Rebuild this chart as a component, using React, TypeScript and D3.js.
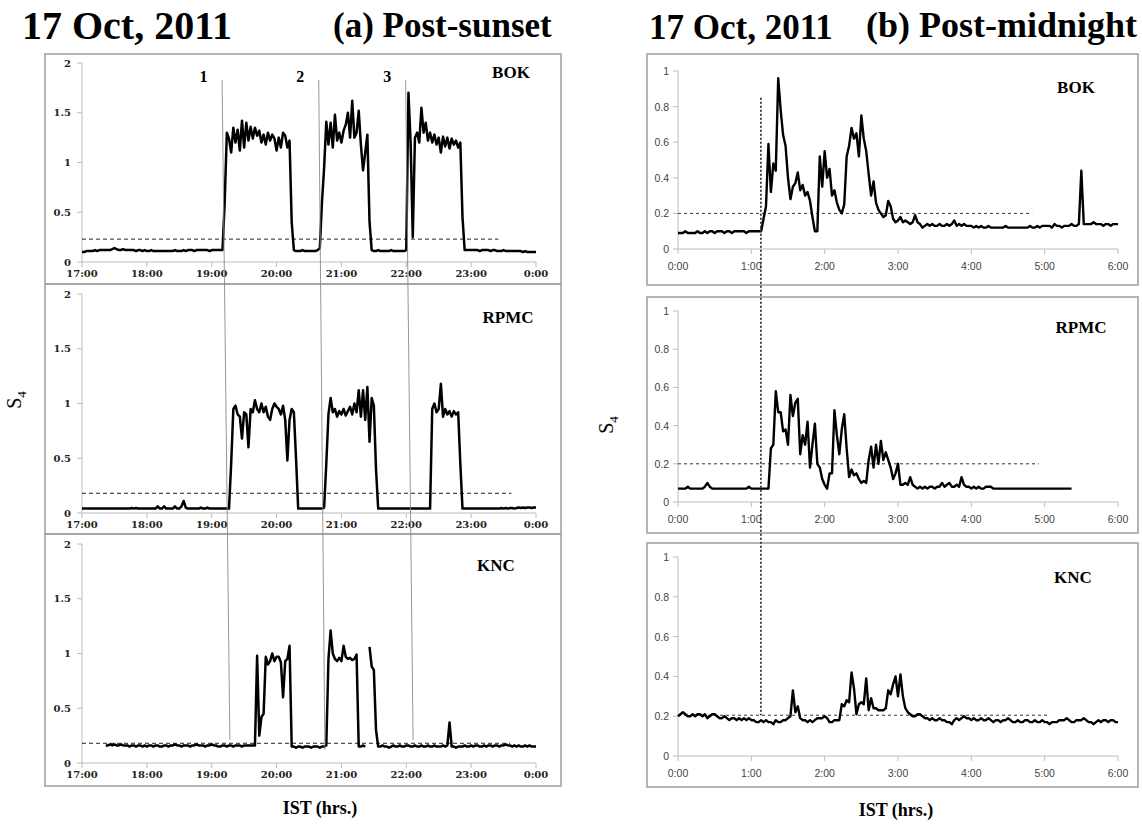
import React from 'react'
import * as d3 from 'd3'

// S4 index sampled every 2 minutes
const STEP_MIN = 2

// (a) post-sunset, 17:00 -> 0:00
const sunsetHourLabels = ['17:00', '18:00', '19:00', '20:00', '21:00', '22:00', '23:00', '0:00']
const sunsetYTicks = [0, 0.5, 1, 1.5, 2]

const bokSunset = [
  0.10, 0.10, 0.11, 0.11, 0.11, 0.11, 0.12, 0.11, 0.12, 0.12,
  0.12, 0.12, 0.12, 0.12, 0.13, 0.14, 0.13, 0.12, 0.12, 0.13,
  0.12, 0.12, 0.12, 0.12, 0.12, 0.11, 0.12, 0.12, 0.11, 0.12,
  0.11, 0.11, 0.12, 0.11, 0.11, 0.11, 0.11, 0.11, 0.11, 0.11,
  0.11, 0.11, 0.11, 0.12, 0.11, 0.11, 0.11, 0.12, 0.11, 0.12,
  0.12, 0.12, 0.11, 0.12, 0.12, 0.12, 0.12, 0.12, 0.12, 0.11,
  0.12, 0.12, 0.12, 0.12, 0.12,
  0.12, 0.60,
  1.30, 1.24, 1.10, 1.35, 1.20, 1.33, 1.12, 1.42, 1.15, 1.40,
  1.22, 1.36, 1.24, 1.35, 1.27, 1.32, 1.20, 1.28, 1.18, 1.30,
  1.22, 1.28, 1.24, 1.12, 1.25, 1.15, 1.30, 1.27, 1.15, 1.22,
  0.40,
  0.12, 0.11, 0.11, 0.11, 0.12, 0.11, 0.11, 0.11, 0.11, 0.11, 0.11, 0.12,
  0.14, 0.60, 0.95,
  1.41, 1.18, 1.40, 1.15, 1.48, 1.22, 1.30, 1.20, 1.32, 1.38,
  1.50, 1.25, 1.62, 1.25, 1.30, 1.52, 1.18, 0.92, 1.10, 1.28,
  0.40,
  0.12, 0.11, 0.11, 0.12, 0.11, 0.11, 0.11, 0.11, 0.11, 0.12, 0.11, 0.11, 0.11, 0.11, 0.11, 0.11, 0.12,
  1.70, 1.20, 0.25, 1.25, 1.30, 1.20, 1.55, 1.30, 1.40, 1.22,
  1.30, 1.20, 1.28, 1.18, 1.25, 1.10, 1.26, 1.16, 1.25, 1.14,
  1.24, 1.18, 1.22, 1.15, 1.20,
  0.45,
  0.12, 0.12, 0.12, 0.12, 0.12, 0.12, 0.12, 0.11, 0.12, 0.12,
  0.12, 0.12, 0.11, 0.12, 0.12, 0.11, 0.11, 0.11, 0.12, 0.11,
  0.11, 0.11, 0.11, 0.11, 0.11, 0.11, 0.11, 0.10, 0.11, 0.10,
  0.10, 0.10, 0.10, 0.10
]

const rpmcSunset = [
  0.04, 0.04, 0.04, 0.04, 0.04, 0.04, 0.04, 0.04, 0.04, 0.04,
  0.04, 0.04, 0.04, 0.04, 0.04, 0.04, 0.04, 0.04, 0.04, 0.04,
  0.04, 0.04, 0.04, 0.045, 0.04, 0.045, 0.04, 0.04, 0.04, 0.04,
  0.04, 0.04, 0.04, 0.04, 0.04, 0.06, 0.04, 0.04, 0.06, 0.04,
  0.04, 0.04, 0.04, 0.06, 0.04, 0.04, 0.06, 0.11, 0.05, 0.04,
  0.04, 0.04, 0.04, 0.04, 0.04, 0.05, 0.04, 0.04, 0.05, 0.04,
  0.04, 0.04, 0.04, 0.04, 0.04, 0.04, 0.04, 0.04,
  0.04, 0.45,
  0.95, 0.98, 0.90, 0.88, 0.68, 0.92, 0.90, 0.60, 0.95, 0.92,
  1.03, 0.95, 0.92, 1.00, 0.92, 0.97, 0.88, 0.85, 0.95, 1.00,
  0.97, 0.95, 0.90, 0.98, 0.85, 0.48, 0.85, 0.95, 0.92,
  0.50,
  0.04, 0.04, 0.04, 0.04, 0.04, 0.04, 0.04, 0.04, 0.04, 0.04, 0.04, 0.04,
  0.05, 0.45, 0.90,
  1.05, 0.92, 0.95, 0.88, 0.93, 0.90, 0.95, 0.89, 0.93, 0.97,
  0.90, 1.00, 0.92, 1.12, 0.88, 1.12, 0.85, 1.15, 0.65, 1.05, 0.98,
  0.40,
  0.04, 0.04, 0.04, 0.04, 0.04, 0.04, 0.04, 0.04, 0.04, 0.04,
  0.04, 0.04, 0.04, 0.04, 0.04, 0.04, 0.04, 0.04, 0.04, 0.04,
  0.04, 0.04, 0.04, 0.04, 0.04,
  0.95, 1.00, 0.92, 0.95, 1.18, 0.88, 0.95, 0.90, 0.93, 0.88, 0.93, 0.90, 0.92,
  0.45,
  0.04, 0.04, 0.04, 0.04, 0.04, 0.04, 0.04, 0.04, 0.04, 0.04,
  0.04, 0.04, 0.04, 0.04, 0.04, 0.04, 0.04, 0.04, 0.045, 0.04,
  0.045, 0.04, 0.045, 0.045, 0.04, 0.045, 0.05, 0.045, 0.05, 0.045,
  0.05, 0.05, 0.045, 0.05, 0.05
]

const kncSunset = [
  null, null, null, null, null, null, null, null, null, null, null,
  0.16, 0.16, 0.17, 0.16, 0.17, 0.16, 0.16, 0.17, 0.16, 0.16,
  0.16, 0.15, 0.16, 0.16, 0.15, 0.16, 0.16, 0.15, 0.16, 0.15,
  0.16, 0.16, 0.15, 0.16, 0.16, 0.15, 0.15, 0.16, 0.16, 0.15,
  0.16, 0.16, 0.17, 0.16, 0.16, 0.15, 0.16, 0.16, 0.16, 0.15,
  0.16, 0.16, 0.17, 0.16, 0.16, 0.16, 0.15, 0.16, 0.16, 0.17,
  0.16, 0.16, 0.15, 0.15, 0.16, 0.16, 0.15, 0.16, 0.16, 0.15,
  0.16, 0.16, 0.16, 0.15, 0.16, 0.16, 0.16, 0.16, 0.16, 0.16,
  0.98, 0.25, 0.42, 0.45, 0.97, 0.90, 0.93, 1.00, 0.93, 0.97,
  0.97, 0.92, 0.60, 0.93, 0.95, 1.07,
  0.15, 0.15, 0.14, 0.15, 0.15, 0.14, 0.15, 0.15, 0.15, 0.14, 0.15, 0.15, 0.15, 0.14, 0.15, 0.15,
  0.16, 0.95,
  1.21, 1.00, 0.95, 0.93, 0.96, 0.93, 1.07, 0.97, 0.95, 0.96, 0.94, 0.95, 0.99,
  0.15, 0.15, 0.16, 0.15,
  null,
  1.06, 0.88, 0.85,
  0.30,
  0.15, 0.15, 0.16, 0.15, 0.15, 0.14, 0.15, 0.16, 0.15, 0.15,
  0.16, 0.15, 0.15, 0.16, 0.16, 0.15, 0.15, 0.16, 0.15, 0.15,
  0.16, 0.15, 0.15, 0.16, 0.15, 0.15, 0.16, 0.15, 0.15, 0.15,
  0.16, 0.15, 0.16,
  0.37,
  0.15, 0.15, 0.14, 0.15, 0.15, 0.15, 0.16, 0.15, 0.15, 0.16,
  0.15, 0.16, 0.16, 0.15, 0.15, 0.16, 0.15, 0.16, 0.16, 0.15,
  0.16, 0.16, 0.15, 0.16, 0.16, 0.17, 0.16, 0.16, 0.15, 0.16,
  0.15, 0.16, 0.15, 0.15, 0.16, 0.15, 0.16, 0.15, 0.15, 0.15
]

// (b) post-midnight, 0:00 -> 6:00
const midnightHourLabels = ['0:00', '1:00', '2:00', '3:00', '4:00', '5:00', '6:00']
const midnightYTicks = [0, 0.2, 0.4, 0.6, 0.8, 1]

const bokMidnight = [
  0.09, 0.09, 0.09, 0.10, 0.09, 0.09, 0.09, 0.09, 0.10, 0.09,
  0.09, 0.10, 0.09, 0.10, 0.10, 0.09, 0.10, 0.10, 0.10, 0.09,
  0.10, 0.10, 0.09, 0.10, 0.10, 0.10, 0.10, 0.10, 0.09, 0.10,
  0.10, 0.10, 0.10, 0.10,
  0.10, 0.17, 0.24, 0.59, 0.32, 0.48, 0.44, 0.96, 0.78, 0.64,
  0.58, 0.40, 0.28, 0.35, 0.37, 0.43, 0.33, 0.36, 0.30, 0.32,
  0.27, 0.18, 0.10, 0.10, 0.52, 0.35, 0.55, 0.40, 0.45, 0.30,
  0.33, 0.26, 0.22, 0.20, 0.25, 0.52, 0.58, 0.68, 0.62, 0.65,
  0.52, 0.75, 0.62, 0.55, 0.42, 0.30, 0.38, 0.26, 0.22, 0.20,
  0.18, 0.19, 0.27, 0.24, 0.17, 0.15, 0.16, 0.18, 0.15, 0.16,
  0.15, 0.14, 0.15, 0.19, 0.15, 0.14, 0.12,
  0.13, 0.14, 0.13, 0.14, 0.13, 0.13, 0.14, 0.13, 0.13, 0.14,
  0.13, 0.14, 0.16, 0.13, 0.14, 0.13, 0.14, 0.13, 0.13, 0.13,
  0.12, 0.13, 0.12, 0.13, 0.12, 0.12, 0.13, 0.12, 0.12, 0.12,
  0.12, 0.12, 0.12, 0.13, 0.12, 0.12, 0.12, 0.12, 0.12, 0.12,
  0.12, 0.12, 0.12, 0.13, 0.12, 0.12, 0.13, 0.12, 0.13, 0.13,
  0.13, 0.13, 0.12, 0.14, 0.13, 0.13, 0.12, 0.13, 0.13, 0.13,
  0.14, 0.13, 0.13, 0.14, 0.44, 0.14, 0.14, 0.14, 0.14, 0.15,
  0.14, 0.14, 0.14, 0.13, 0.14, 0.14, 0.13, 0.14, 0.14, 0.14
]

const rpmcMidnight = [
  0.07, 0.07, 0.07, 0.07, 0.08, 0.07, 0.07, 0.07, 0.07, 0.07,
  0.07, 0.08, 0.10, 0.08, 0.07, 0.07, 0.07, 0.07, 0.07, 0.07,
  0.07, 0.07, 0.07, 0.07, 0.07, 0.07, 0.07, 0.07, 0.07, 0.08,
  0.07, 0.07, 0.07, 0.07, 0.07, 0.07, 0.07, 0.07,
  0.28, 0.30,
  0.58, 0.47, 0.47, 0.37, 0.38, 0.30, 0.56, 0.45, 0.52, 0.54,
  0.25, 0.35, 0.30, 0.42, 0.18, 0.30, 0.41, 0.20, 0.18, 0.12,
  0.09, 0.07, 0.15, 0.15, 0.48, 0.35, 0.25, 0.38, 0.46, 0.28,
  0.13, 0.17, 0.14, 0.15, 0.12, 0.10, 0.11, 0.10,
  0.22, 0.29, 0.18, 0.30, 0.20, 0.32, 0.22, 0.26, 0.22, 0.18,
  0.12, 0.15, 0.20, 0.09, 0.09, 0.10, 0.09, 0.13, 0.09, 0.08,
  0.07, 0.08, 0.07, 0.08, 0.07, 0.08, 0.08, 0.07, 0.08, 0.08,
  0.10, 0.08, 0.09, 0.10, 0.08, 0.08, 0.09, 0.08, 0.13, 0.09,
  0.08, 0.08, 0.07, 0.08, 0.07, 0.08, 0.07, 0.07, 0.08, 0.08,
  0.08, 0.07, 0.07, 0.07, 0.07, 0.07, 0.07, 0.07, 0.07, 0.07,
  0.07, 0.07, 0.07, 0.07, 0.07, 0.07, 0.07, 0.07, 0.07, 0.07,
  0.07, 0.07, 0.07, 0.07, 0.07, 0.07, 0.07, 0.07, 0.07, 0.07,
  0.07, 0.07, 0.07, 0.07,
  null, null, null, null, null, null, null, null, null, null,
  null, null, null, null, null, null, null, null, null
]

const kncMidnight = [
  0.20, 0.21, 0.22, 0.21, 0.20, 0.20, 0.21, 0.20, 0.21, 0.21,
  0.20, 0.21, 0.19, 0.20, 0.21, 0.21, 0.20, 0.19, 0.19, 0.20,
  0.19, 0.18, 0.19, 0.19, 0.18, 0.19, 0.18, 0.19, 0.18, 0.19,
  0.18, 0.18, 0.17, 0.17, 0.18, 0.17, 0.18, 0.17, 0.17, 0.16,
  0.18, 0.17, 0.17, 0.18, 0.18, 0.19, 0.20,
  0.33, 0.22, 0.25, 0.19, 0.18, 0.18, 0.17, 0.18, 0.17, 0.18,
  0.19, 0.19, 0.19, 0.20, 0.19, 0.17, 0.17, 0.18, 0.18,
  0.18, 0.26, 0.25, 0.28, 0.27, 0.42, 0.34, 0.21, 0.26, 0.27,
  0.26, 0.39, 0.23, 0.29, 0.24, 0.24, 0.23, 0.23, 0.23, 0.24,
  0.33, 0.31, 0.36, 0.40, 0.30, 0.41, 0.30, 0.24, 0.22, 0.21,
  0.20, 0.20, 0.21, 0.21,
  0.20, 0.19, 0.19, 0.18, 0.19, 0.18, 0.18, 0.19, 0.18, 0.18,
  0.17, 0.17, 0.16, 0.18, 0.19, 0.18, 0.19, 0.20, 0.19, 0.19,
  0.18, 0.19, 0.18, 0.18, 0.19, 0.18, 0.18, 0.19, 0.18, 0.17,
  0.18, 0.18, 0.17, 0.18, 0.18, 0.19, 0.18, 0.17, 0.17, 0.18,
  0.17, 0.17, 0.18, 0.18, 0.17, 0.17, 0.18, 0.17, 0.17, 0.18,
  0.17, 0.17, 0.16, 0.17, 0.17, 0.17, 0.18, 0.18, 0.18, 0.19,
  0.18, 0.17, 0.17, 0.18, 0.18, 0.18, 0.19, 0.18, 0.17, 0.17,
  0.16, 0.17, 0.18, 0.17, 0.18, 0.18, 0.17, 0.18, 0.18, 0.17,
  0.17
]

// threshold S4 levels (dashed) and the hour where each dashed line stops
const sunsetThresholds = [0.23, 0.18, 0.18]
const sunsetThresholdEnds = [6.42, 6.62, 6.6]
const midnightThresholds = [0.2, 0.2, 0.205]
const midnightThresholdEnds = [4.83, 4.92, 5.05]

// event markers 1,2,3 : hour at top (BOK) and bottom (KNC)
const sunsetEventLabels = ['1', '2', '3']
const sunsetEventTop = [2.16, 3.65, 4.99]
const sunsetEventBottom = [2.28, 3.745, 5.105]
const sunsetEventBottomValue = [0.21, 0.12, 0.21]
const sunsetEventTopValue = 1.83
// post-midnight onset marker
const midnightEventHour = 1.13
const midnightEventTop = 0.85
const midnightEventBottom = 0.205

const stations = ['BOK', 'RPMC', 'KNC']
const sunsetSeries = [bokSunset, rpmcSunset, kncSunset]
const midnightSeries = [bokMidnight, rpmcMidnight, kncMidnight]

// ---- layout
const SERIF = '"Liberation Serif", "Times New Roman", serif'
const TICK_SERIF = '"DejaVu Serif", serif'
const SANS = '"Liberation Sans", Arial, sans-serif'
const AXIS = '#bcbcbc'
const BOX = '#a3a3a3'

const sunsetLayout = {
  boxLeft: 45, boxRight: 561, plotLeft: 82, plotRight: 536,
  boxes: [[54, 284], [284, 534], [534, 786]],
  plots: [[63, 262], [294, 513], [544, 763]],
  labels: [[511, 78], [508, 322.5], [496, 570.5]]
}
const midnightLayout = {
  boxLeft: 647, boxRight: 1138, plotLeft: 678, plotRight: 1118,
  boxes: [[54, 285], [297, 533], [543, 787]],
  plots: [[71, 249], [311, 502], [557, 756]],
  labels: [[1076, 92.5], [1081, 333], [1073, 583]]
}

const hoursOf = (i: number) => (i * STEP_MIN) / 60

export default function App() {
  const xSun = d3.scaleLinear().domain([0, 7]).range([sunsetLayout.plotLeft, sunsetLayout.plotRight])
  const xMid = d3.scaleLinear().domain([0, 6]).range([midnightLayout.plotLeft, midnightLayout.plotRight])
  const ySun = sunsetLayout.plots.map(([t, b]) => d3.scaleLinear().domain([0, 2]).range([b, t]))
  const yMid = midnightLayout.plots.map(([t, b]) => d3.scaleLinear().domain([0, 1]).range([b, t]))

  const makeLine = (x: d3.ScaleLinear<number, number>, y: d3.ScaleLinear<number, number>) =>
    d3.line<number | null>()
      .defined(d => d !== null)
      .x((_, i) => x(hoursOf(i)))
      .y(d => y(d as number))

  return (
    <svg width={1142} height={829} style={{ position: 'absolute', left: 0, top: 0, background: '#fff' }}>
      <rect x={0} y={0} width={1142} height={829} fill="#fff" />

      {/* titles */}
      <text x={22} y={39} fontFamily={SERIF} fontWeight="bold" fontSize={40}>17 Oct, 2011</text>
      <text x={333} y={37} fontFamily={SERIF} fontWeight="bold" fontSize={35}>(a) Post-sunset</text>
      <text x={649} y={39} fontFamily={SERIF} fontWeight="bold" fontSize={35}>17 Oct, 2011</text>
      <text x={866} y={37} fontFamily={SERIF} fontWeight="bold" fontSize={36}>(b) Post-midnight</text>

      {/* ---------------- (a) post-sunset ---------------- */}
      {stations.map((name, p) => {
        const y = ySun[p]
        const [bt, bb] = sunsetLayout.boxes[p]
        const line = makeLine(xSun, y)
        return (
          <g key={'a' + name}>
            <rect x={sunsetLayout.boxLeft} y={bt} width={sunsetLayout.boxRight - sunsetLayout.boxLeft}
              height={bb - bt} fill="none" stroke={BOX} strokeWidth={1.6} />
            <line x1={xSun(0)} x2={xSun(0)} y1={y(0)} y2={y(2)} stroke={AXIS} strokeWidth={1} />
            <line x1={xSun(0)} x2={xSun(7)} y1={y(0)} y2={y(0)} stroke={AXIS} strokeWidth={1} />
            {sunsetYTicks.map(t => (
              <g key={t}>
                <line x1={xSun(0) - 5} x2={xSun(0)} y1={y(t)} y2={y(t)} stroke={AXIS} />
                <text x={71} y={y(t) + 3.5} textAnchor="end" fontFamily={TICK_SERIF} fontWeight="bold"
                  fontSize={10} fill="#222">{t}</text>
              </g>
            ))}
            {sunsetHourLabels.map((lab, h) => (
              <g key={lab}>
                <line x1={xSun(h)} x2={xSun(h)} y1={y(0)} y2={y(0) + 5} stroke={AXIS} />
                <text x={xSun(h)} y={y(0) + 15} textAnchor="middle" fontFamily={TICK_SERIF}
                  fontWeight="bold" fontSize={10} fill="#222">{lab}</text>
              </g>
            ))}
            <line x1={xSun(0)} x2={xSun(sunsetThresholdEnds[p])} y1={y(sunsetThresholds[p])}
              y2={y(sunsetThresholds[p])} stroke="#222" strokeWidth={1} strokeDasharray="4,3" />
            <path d={line(sunsetSeries[p]) ?? ''} fill="none" stroke="#000" strokeWidth={2.5}
              strokeLinejoin="round" />
            <text x={sunsetLayout.labels[p][0]} y={sunsetLayout.labels[p][1]} textAnchor="middle"
              fontFamily={SERIF} fontWeight="bold" fontSize={17}>{name}</text>
          </g>
        )
      })}

      {sunsetEventLabels.map((lab, k) => (
        <g key={'ev' + lab}>
          <line x1={xSun(sunsetEventTop[k])} y1={ySun[0](sunsetEventTopValue)}
            x2={xSun(sunsetEventBottom[k])} y2={ySun[2](sunsetEventBottomValue[k])}
            stroke="#8a8a8a" strokeWidth={0.9} />
          <text x={xSun(sunsetEventTop[k]) - 18.5} y={ySun[0](1.81)} textAnchor="middle"
            fontFamily={SERIF} fontWeight="bold" fontSize={16}>{lab}</text>
        </g>
      ))}

      <text transform="translate(21,400) rotate(-90)" textAnchor="middle" fontFamily={SERIF} fontSize={20}>
        S<tspan fontSize={13} dy={5}>4</tspan>
      </text>
      <text x={320} y={814} textAnchor="middle" fontFamily={SERIF} fontWeight="bold" fontSize={18}>IST (hrs.)</text>

      {/* ---------------- (b) post-midnight ---------------- */}
      {stations.map((name, p) => {
        const y = yMid[p]
        const [bt, bb] = midnightLayout.boxes[p]
        const line = makeLine(xMid, y)
        return (
          <g key={'b' + name}>
            <rect x={midnightLayout.boxLeft} y={bt} width={midnightLayout.boxRight - midnightLayout.boxLeft}
              height={bb - bt} fill="none" stroke={BOX} strokeWidth={1.6} />
            <line x1={xMid(0)} x2={xMid(0)} y1={y(0)} y2={y(1)} stroke={AXIS} strokeWidth={1} />
            <line x1={xMid(0)} x2={xMid(6)} y1={y(0)} y2={y(0)} stroke={AXIS} strokeWidth={1} />
            {midnightYTicks.map(t => (
              <g key={t}>
                <line x1={xMid(0) - 5} x2={xMid(0)} y1={y(t)} y2={y(t)} stroke={AXIS} />
                <text x={669} y={y(t) + 4} textAnchor="end" fontFamily={SANS} fontSize={10.5}
                  fill="#444">{t}</text>
              </g>
            ))}
            {midnightHourLabels.map((lab, h) => (
              <g key={lab}>
                <line x1={xMid(h)} x2={xMid(h)} y1={y(0)} y2={y(0) + 5} stroke={AXIS} />
                <text x={xMid(h)} y={y(0) + 21} textAnchor="middle" fontFamily={SANS} fontSize={10.5}
                  fill="#444">{lab}</text>
              </g>
            ))}
            <line x1={xMid(0)} x2={xMid(midnightThresholdEnds[p])} y1={y(midnightThresholds[p])}
              y2={y(midnightThresholds[p])} stroke="#333" strokeWidth={1} strokeDasharray="3,3" />
            <path d={line(midnightSeries[p]) ?? ''} fill="none" stroke="#000" strokeWidth={2.4}
              strokeLinejoin="round" />
            <text x={midnightLayout.labels[p][0]} y={midnightLayout.labels[p][1]} textAnchor="middle"
              fontFamily={SERIF} fontWeight="bold" fontSize={17}>{name}</text>
          </g>
        )
      })}

      <line x1={xMid(midnightEventHour)} x2={xMid(midnightEventHour)} y1={yMid[0](midnightEventTop)}
        y2={yMid[2](midnightEventBottom)} stroke="#333" strokeWidth={1.8} strokeDasharray="2,2" />

      <text transform="translate(613,425) rotate(-90)" textAnchor="middle" fontFamily={SERIF} fontSize={20}>
        S<tspan fontSize={13} dy={5}>4</tspan>
      </text>
      <text x={896} y={816} textAnchor="middle" fontFamily={SERIF} fontWeight="bold" fontSize={18}>IST (hrs.)</text>
    </svg>
  )
}
